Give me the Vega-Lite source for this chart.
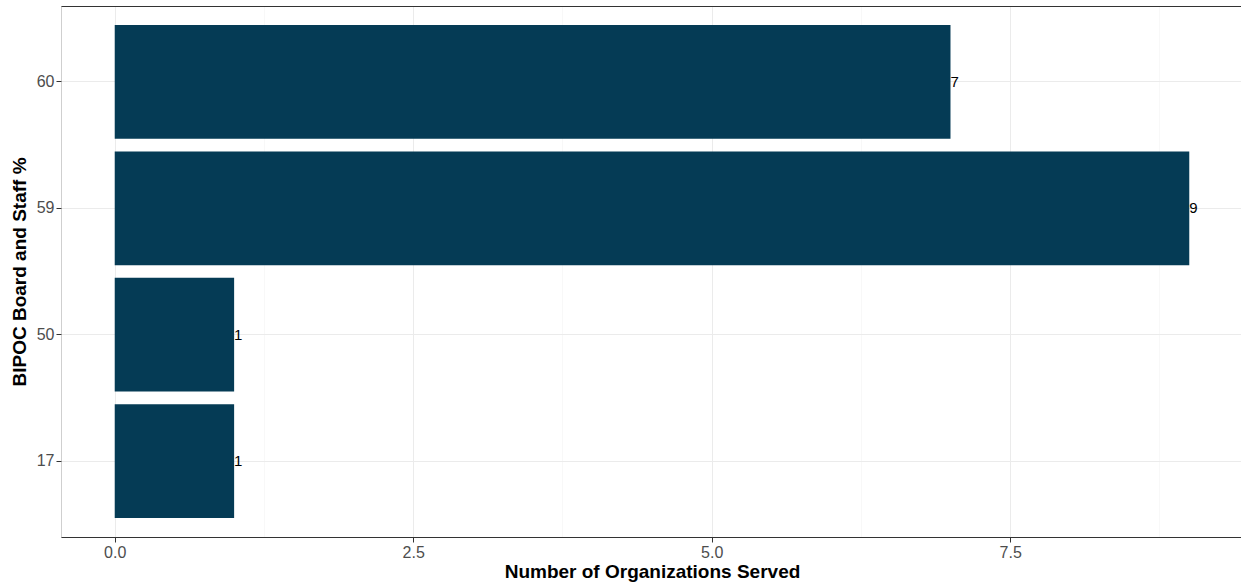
{
  "$schema": "https://vega.github.io/schema/vega-lite/v6.json",
  "autosize": {"type": "none"},
  "padding": {"left": 61, "top": 6, "right": 0, "bottom": 46},
  "width": 1182,
  "height": 531,
  "background": "white",
  "config": {
    "view": {"stroke": "#cfcfcf", "strokeWidth": 1},
    "font": "Liberation Sans",
    "axis": {
      "labelFont": "Liberation Sans",
      "titleFont": "Liberation Sans",
      "labelColor": "#4D4D4D",
      "labelFontSize": 16,
      "titleFontSize": 19,
      "titleFontWeight": "bold",
      "titleColor": "#000000",
      "tickColor": "#333333",
      "tickSize": 5,
      "gridColor": "#EBEBEB",
      "gridWidth": 1
    }
  },
  "data": {
    "values": [
      {"pct": 60, "count": 7},
      {"pct": 59, "count": 9},
      {"pct": 50, "count": 1},
      {"pct": 17, "count": 1}
    ]
  },
  "resolve": {"axis": {"x": "independent"}},
  "layer": [
    {
      "mark": {"type": "bar", "color": "#053B55"},
      "encoding": {
        "y": {
          "field": "pct", "type": "ordinal", "sort": "descending",
          "scale": {"paddingInner": 0.1, "paddingOuter": 0.15},
          "axis": {
            "title": "BIPOC Board and Staff %",
            "domain": false,
            "grid": true,
            "labelPadding": 2,
            "titlePadding": 7
          }
        },
        "x": {
          "field": "count", "type": "quantitative",
          "scale": {"domain": [-0.45, 9.45], "nice": false, "zero": false},
          "axis": {
            "title": "Number of Organizations Served",
            "values": [0, 2.5, 5, 7.5],
            "format": ".1f",
            "grid": true,
            "domain": true,
            "domainColor": "#333333",
            "domainWidth": 1.2,
            "labelPadding": 2,
            "titlePadding": 2
          }
        }
      }
    },
    {
      "mark": {"type": "text", "align": "left", "baseline": "middle", "dx": 0, "fontSize": 15, "color": "#000000", "font": "Liberation Sans"},
      "encoding": {
        "y": {"field": "pct", "type": "ordinal", "sort": "descending"},
        "x": {
          "field": "count", "type": "quantitative",
          "axis": {
            "orient": "top",
            "title": null,
            "values": [1.25, 3.75, 6.25, 8.75],
            "labels": false,
            "ticks": false,
            "grid": true,
            "gridColor": "#F4F4F4",
            "gridWidth": 0.6,
            "domain": true,
            "domainColor": "#333333",
            "domainWidth": 1.2
          }
        },
        "text": {"field": "count", "type": "quantitative"}
      }
    }
  ]
}
